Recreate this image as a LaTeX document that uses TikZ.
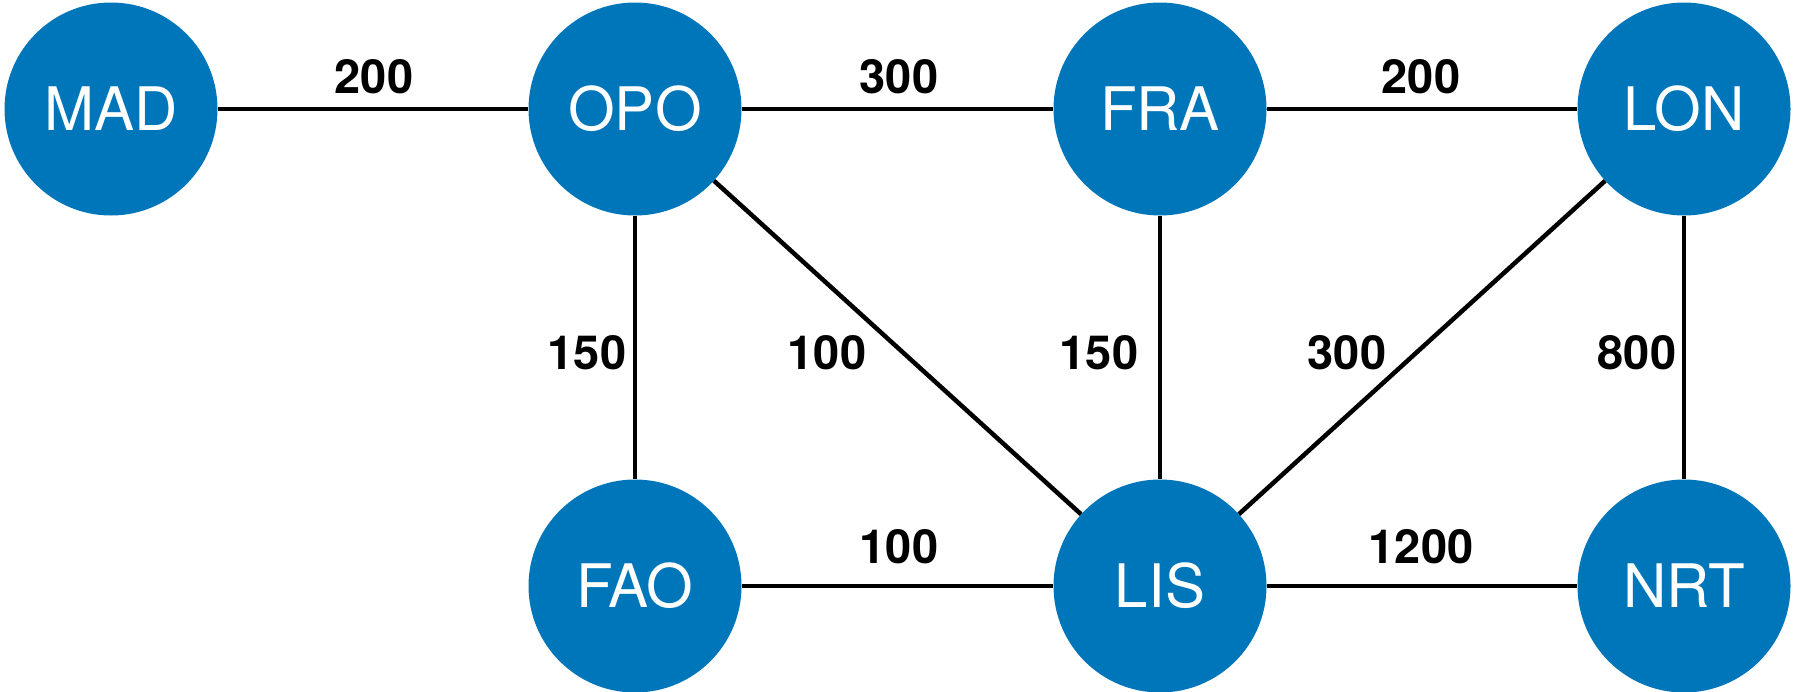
\documentclass[tikz,border=0pt]{standalone}
\usepackage{fontspec}
\setmainfont{TeX Gyre Heros}
\definecolor{airport}{RGB}{0,118,186}
\begin{document}
\begin{tikzpicture}[x=1pt,y=-1pt,
  city/.style={circle,fill=airport,draw=none,minimum size=213pt,inner sep=0pt,text=white,font=\fontsize{60}{64}\selectfont},
  route/.style={line width=4.5pt,draw=black},
  cost/.style={inner sep=0pt,font=\bfseries\fontsize{47}{50}\selectfont}]
\useasboundingbox (0,0) rectangle (1795,691);
\node[city] (MAD) at (111,109) {MAD};
\node[city] (OPO) at (635,109) {OPO};
\node[city] (FRA) at (1160,109) {FRA};
\node[city] (LON) at (1684,109) {LON};
\node[city] (FAO) at (635,586) {FAO};
\node[city] (LIS) at (1160,586) {LIS};
\node[city] (NRT) at (1684,586) {NRT};
\draw[route] (MAD) -- (OPO);
\draw[route] (OPO) -- (FRA);
\draw[route] (FRA) -- (LON);
\draw[route] (OPO) -- (FAO);
\draw[route] (OPO) -- (LIS);
\draw[route] (FRA) -- (LIS);
\draw[route] (LON) -- (LIS);
\draw[route] (LON) -- (NRT);
\draw[route] (FAO) -- (LIS);
\draw[route] (LIS) -- (NRT);
\node[cost] (c1) at (374,77) {200};
\node[cost] (c2) at (899,77) {300};
\node[cost] (c3) at (1421,77) {200};
\node[cost] (c4) at (587,353) {150};
\node[cost] (c5) at (827,353) {100};
\node[cost] (c6) at (1099,353) {150};
\node[cost] (c7) at (1347,353) {300};
\node[cost] (c8) at (1637,353) {800};
\node[cost] (c9) at (899,547) {100};
\node[cost] (c10) at (1421,547) {1200};
\end{tikzpicture}
\end{document}
